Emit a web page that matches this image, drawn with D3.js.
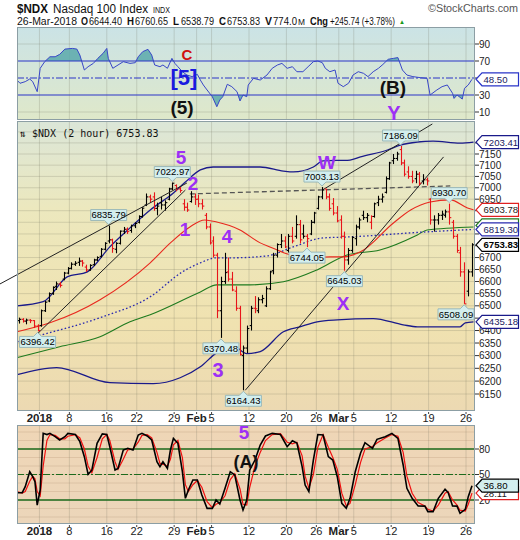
<!DOCTYPE html>
<html><head><meta charset="utf-8">
<script src="https://cdn.jsdelivr.net/npm/d3@7"></script>
<style>body{margin:0;background:#fff}svg{display:block}</style>
</head><body><svg id="c" width="520" height="540"></svg>
<script>
// ---------------- DATA ----------------
const tickDays   = [3,7,12,16,21,24,26,31,36,40,43,45,50,55,60];
const tickLabels = ["2018","8","16","22","29","Feb","5","12","20","26","Mar","5","12","19","26"];
const tickBold   = [1,0,0,0,0,1,0,0,0,0,1,0,0,0,0];

// 2 bars per trading day, day 0 = 27-Dec-2017
const barOpen = [6440,6445,6438,6442,6440,6418,6420,6480,6520,6550,6580,6590,6610,6635,6655,6672,6680,6685,6660,6648,6670,6690,6705,6735,6770,6775,6735,6760,6812,6820,6815,6835,6850,6875,6925,6960,6960,6910,6935,6925,6950,6995,7010,6995,6930,6915,6940,6960,6950,6930,6880,6830,6770,6710,6480,6600,6640,6610,6560,6490,6300,6330,6420,6490,6480,6525,6500,6570,6645,6710,6755,6770,6730,6790,6790,6840,6800,6790,6800,6850,6910,6960,6995,6960,6930,6890,6860,6790,6690,6730,6780,6830,6880,6870,6850,6875,6935,6950,6980,7040,7120,7130,7170,7110,7070,7050,7040,7060,7030,7035,6950,6860,6860,6880,6880,6895,6850,6790,6720,6640,6560,6640];
const barHigh = [6452,6450,6448,6446,6442,6425,6485,6520,6555,6580,6600,6598,6640,6660,6680,6685,6700,6690,6670,6672,6695,6705,6740,6765,6835.79,6780,6765,6815,6830,6828,6840,6850,6880,6915,6975,6970,6980,6935,6960,6945,7000,7022.97,7015,7005,6950,6935,6985,6975,6970,6950,6890,6845,6790,6720,6620,6720,6700,6640,6580,6500,6340,6420,6500,6540,6535,6545,6580,6645,6720,6760,6800,6790,6800,6830,6880,6860,6840,6800,6860,6895,6965,7003.13,6995,6975,6955,6920,6880,6810,6740,6790,6840,6870,6900,6890,6880,6935,6965,6975,7050,7115,7150,7160,7186.09,7125,7095,7075,7075,7070,7060,7045,6955,6880,6890,6900,6905,6930.70,6860,6800,6745,6680,6650,6760.65];
const barLow  = [6428,6432,6425,6430,6410,6396.42,6415,6475,6515,6545,6565,6575,6605,6630,6650,6665,6665,6662,6640,6645,6665,6685,6700,6730,6760,6720,6718,6755,6800,6800,6805,6825,6845,6870,6920,6935,6900,6880,6905,6900,6945,6990,6985,6978,6900,6895,6935,6925,6915,6905,6820,6755,6700,6450,6370.48,6590,6600,6560,6480,6300,6164.43,6310,6400,6470,6470,6510,6495,6565,6630,6700,6740,6740,6720,6760,6780,6760,6780,6744.05,6795,6845,6905,6950,6950,6900,6880,6850,6780,6645.03,6670,6720,6750,6820,6860,6850,6820,6870,6920,6935,6975,7035,7105,7120,7100,7050,7040,7020,7020,7010,7015,7010,6840,6810,6840,6860,6870,6840,6780,6720,6620,6508.09,6538.79,6620];
const barClose= [6445,6438,6442,6440,6418,6400,6480,6515,6550,6575,6590,6584,6635,6654,6672,6676,6685,6677,6648,6667,6690,6700,6735,6760,6775,6738,6760,6812,6820,6810,6835,6845,6875,6911,6960,6950,6910,6920,6925,6935,6995,7020,6995,6988,6915,6903,6960,6949,6930,6920,6830,6762,6710,6480,6600,6637,6610,6565,6490,6305,6330,6408,6490,6488,6525,6530,6570,6640,6710,6755,6770,6745,6790,6770,6840,6775,6790,6780,6850,6890,6960,6990,6960,6910,6890,6856,6790,6690,6730,6785,6830,6860,6870,6880,6875,6930,6950,6960,7040,7110,7130,7150,7110,7060,7050,7030,7060,7020,7035,7030,6860,6860,6880,6885,6895,6870,6790,6730,6640,6508.09,6640,6753.83];

// overlays (day index, value)
const bbUpDay = [0,3.5,6.7,9.4,12.4,15.1,17.8,20.9,22.5,24.5,26.2,29.8,32.5,35.6,36.9,39.6,40.9,44.5,45.9,49.5,51.2,53.5,55.6,59.2,61];
const bbUpVal = [6500,6517,6619,6640,6745,6826,6903,6977,7025,7079,7092,7092,7092,7074,7070,7092,7119,7123,7137,7168,7190,7204,7208,7199,7203.41];
const bbLoDay = [0,5.3,12.4,18.2,21.8,24.5,26.7,28.9,30.7,32.5,35.6,37.8,40.1,42.8,47.6,51.6,53.5,59.2,59.9,61];
const bbLoVal = [6225,6253,6194,6190,6213,6256,6312,6339,6308,6316,6395,6415,6435,6443,6448,6423,6415,6415,6431,6435.18];
const redDay  = [0,4.4,11.1,17.8,20.5,23.1,25.1,26.7,29.8,32.5,33.8,36.5,39.2,41.8,43.6,45.9,50.3,52.6,55.2,57.9,60.2,61];
const redVal  = [6395,6431,6525,6678,6762,6830,6860,6851,6817,6762,6745,6711,6699,6703,6703,6724,6847,6903,6938,6947,6912,6903.78];
const dotDay  = [0,2.4,11.1,17.8,22.1,24.5,26.7,28.9,33.4,36.9,40.9,44.1,54.8,61];
const dotVal  = [6355,6375,6452,6537,6640,6678,6699,6699,6707,6745,6783,6787,6809,6819.30];
const grnDay  = [0,5.7,11.1,15.1,17.8,24.5,26.7,31.1,35.6,40.1,44.1,48.5,53.5,54.8,61];
const grnVal  = [6292,6335,6375,6435,6464,6557,6586,6586,6599,6648,6711,6732,6796,6817,6830];

// trend lines (day, price) start -> end
const trendD1 = [-2.27, 2.7, 30.5, 40.8];
const trendV1 = [6590, 6386, 6164.43, 6990];
const trendD2 = [22.7, 22.5, 57.0, 55.5];
const trendV2 = [7021, 6990, 7137, 7286];
const dashD = [23.1, 57.9], dashV = [6973, 7008];

// price callouts
const calloutVals  = [6835.79,7022.97,7003.13,7186.09,6930.70,6396.42,6370.48,6164.43,6744.05,6645.03,6508.09];
const calloutKinds = ["h","h","h","h","h","l","l","l","l","l","l"];

// RSI
const rsiDay = [0,0.4,1.1,1.7,2.1,2.7,3.1,3.7,4.4,5.1,5.7,6.4,7.4,8.0,8.4,9.0,9.5,10.2,10.8,11.5,12.0,12.2,12.8,13.5,14.2,15.1,15.8,16.2,16.8,17.5,18.0,18.4,19.1,19.5,20.1,20.7,21.1,21.5,22.1,22.7,23.4,24.1,24.5,24.9,25.4,26.1,26.7,27.1,27.5,28.1,28.7,29.4,29.8,30.2,30.7,30.9,31.6,32.5,33.4,34.1,34.8,35.4,36.1,36.8,37.4,38.2,38.9,39.6,40.2,40.8,41.2,41.8,42.5,42.9,43.6,44.3,44.9,45.6,46.3,46.9,47.6,48.3,48.9,49.6,50.3,50.9,51.5,52.1,52.9,53.9,54.8,55.2,56.1,56.8,57.5,58.2,58.4,58.8,59.5,59.8,60.3,60.8];
const rsiVal = [47.6,43.8,45.7,48.8,45.7,33.9,61.4,69.2,75,75,77.8,84,84.8,84,77,59.4,63.3,67.2,73.1,79,84.8,73.1,61.4,65.3,69.2,67.2,68,75,81,83.7,77,65.3,63.3,65.3,61.4,73.1,67.2,63.3,57.4,53.5,51.6,54.3,47.6,41.8,35.9,28,16.2,24.1,28,42.6,39.8,33.9,23,30,28,41.8,49.6,47.6,53.5,61.4,65.3,67.2,61.4,63.3,57.4,57.4,63.3,69.2,70,68,61.4,57.4,59.4,43.8,39.8,43.8,53.5,57.4,55.5,51.6,57.4,61.4,66,72,73.1,74,59.4,53.5,51.6,50.4,49.6,30,35.9,39.8,41.8,32,26,30,25.2,37.9,41.8,48.5];
const rsiTicks = [90,70,50,30,10];

// Slow stochastic
const stoDay = [0,0.7,1.1,1.7,2.1,2.4,2.7,3.1,3.5,4.0,4.4,5.1,5.7,6.4,6.8,7.8,8.4,9.0,9.5,10.0,10.7,11.4,12.0,12.4,13.1,13.5,14.2,14.8,15.5,16.2,16.7,17.4,18.0,18.7,19.1,19.5,20.1,20.5,20.9,21.5,22.1,22.5,22.9,23.5,24.1,24.7,25.4,26.1,26.6,27.1,27.8,28.5,29.1,29.8,30.2,30.7,31.1,31.8,32.5,33.2,34.1,35.2,36.1,36.8,37.4,38.1,38.5,39.0,39.6,40.2,40.9,41.6,42.2,42.8,43.4,44.0,44.5,45.2,45.9,46.5,47.5,48.1,49.2,50.1,50.9,51.6,52.1,52.8,53.6,54.5,54.9,55.6,56.3,57.2,57.6,58.2,58.8,59.2,59.9,60.3,60.8];
const stoK = [28.6,28.6,35.7,53.3,47.4,41.6,14,31.8,98.4,97,98.4,94.5,90.6,94.5,98.4,97,88.6,71,50.2,55,86.7,97.8,97,82.7,55.3,57,78.8,80.8,78.8,96.5,98.4,95.4,90.6,65,59.2,65,57.1,78.8,92.5,86.7,53.3,22,31.8,43.5,43.5,25.9,10.2,10.2,20,15.3,33.8,53.3,49.4,20,8.2,20,55.3,67,84.7,95.3,98.4,97,82.7,89.8,87,59.2,37.6,29.8,67,97,96.5,71,67,47.4,16.1,10.2,22,53.3,75,87.4,80.8,91.4,94.5,98.4,92.5,61.2,33.8,22,13,12.8,6.3,6.3,22,32.6,29,13,12.8,4.3,9,23.9,36.8];
const stoD = [30,28,30,42,48,45,30,25,60,90,97,96,92,92,95,97,93,80,60,52,70,92,97,90,65,56,68,79,80,88,96,97,93,76,63,62,60,68,85,90,70,38,30,38,43,35,18,11,15,17,25,44,51,33,15,14,35,60,76,90,97,98,88,86,88,72,48,34,50,82,97,82,70,56,28,13,16,38,64,80,83,87,93,97,95,76,48,28,17,13,9,7,14,28,30,20,14,8,7,15,28.11];
const stoTicks = [80,50,20];

// ---------------- LAYOUT ----------------
const svg = d3.select("#c");
const X0 = 17, X1 = 475;
const P = {rsi:[27,120], main:[121,411], sto:[425,524]};
const x  = d3.scaleLinear().domain([0,61.2]).range([X0,X1]);
const yR = d3.scaleLinear().domain([30,70]).range([95,61]);
const yM = d3.scaleLog().domain([6150,7150]).range([394,154]);
const yS = d3.scaleLinear().domain([20,80]).range([500,449]);
const FONT = "Arial, 'Liberation Sans', sans-serif";
const PURPLE = "#9d2ff5";

const defs = svg.append("defs");
function grad(id, stops){
  const g = defs.append("linearGradient").attr("id",id).attr("x1",0).attr("y1",0).attr("x2",0).attr("y2",1);
  stops.forEach(s=>g.append("stop").attr("offset",s[0]).attr("stop-color",s[1]));
}
grad("gR",[["0%","#cbe3e6"],["100%","#dfe8c9"]]);
grad("gM",[["0%","#dbe6d8"],["30%","#ece8be"],["70%","#f0e2b0"],["100%","#ecd9b2"]]);
grad("gS",[["0%","#efd6b6"],["100%","#ecd6ba"]]);
function clip(id, top, bot){
  defs.append("clipPath").attr("id",id).append("rect").attr("x",X0).attr("y",top).attr("width",X1-X0).attr("height",bot-top);
}
clip("cR",P.rsi[0],P.rsi[1]); clip("cM",P.main[0],P.main[1]); clip("cS",P.sto[0],P.sto[1]);

[["rsi","gR"],["main","gM"],["sto","gS"]].forEach(([k,g])=>{
  svg.append("rect").attr("x",X0).attr("y",P[k][0]).attr("width",X1-X0).attr("height",P[k][1]-P[k][0]).attr("fill",`url(#${g})`);
});

// gridlines
const gridCol = "rgba(110,110,90,0.22)";
svg.append("g").attr("clip-path","url(#cM)").selectAll("line").data(d3.range(6150,7300,50)).join("line")
  .attr("x1",X0).attr("x2",X1).attr("y1",d=>yM(d)).attr("y2",d=>yM(d)).attr("stroke",gridCol);
svg.append("g").attr("clip-path","url(#cS)").selectAll("line").data(d3.range(-10,110,10)).join("line")
  .attr("x1",X0).attr("x2",X1).attr("y1",d=>yS(d)).attr("y2",d=>yS(d)).attr("stroke","rgba(150,110,80,0.18)");
svg.append("g").attr("clip-path","url(#cR)").selectAll("line").data([10,90]).join("line")
  .attr("x1",X0).attr("x2",X1).attr("y1",d=>yR(d)).attr("y2",d=>yR(d)).attr("stroke",gridCol);
["rsi","main","sto"].forEach(k=>{
  svg.append("g").selectAll("line").data(tickDays).join("line")
    .attr("x1",d=>x(d)).attr("x2",d=>x(d)).attr("y1",P[k][0]).attr("y2",P[k][1]).attr("stroke",gridCol);
});

// ---------------- RSI PANEL ----------------
const rsiPts = rsiDay.map((d,i)=>[d,rsiVal[i]]);
defs.append("clipPath").attr("id","cRhi").append("rect").attr("x",X0).attr("y",P.rsi[0]).attr("width",X1-X0).attr("height",yR(70)-P.rsi[0]);
defs.append("clipPath").attr("id","cRlo").append("rect").attr("x",X0).attr("y",yR(30)).attr("width",X1-X0).attr("height",P.rsi[1]-yR(30));
svg.append("path").datum(rsiPts).attr("clip-path","url(#cRhi)").attr("fill","#5aa9ab").attr("opacity",0.85)
  .attr("d",d3.area().x(d=>x(d[0])).y0(yR(70)).y1(d=>yR(d[1])));
svg.append("path").datum(rsiPts).attr("clip-path","url(#cRlo)").attr("fill","#5aa9ab").attr("opacity",0.85)
  .attr("d",d3.area().x(d=>x(d[0])).y0(yR(30)).y1(d=>yR(d[1])));
[70,30].forEach(v=>svg.append("line").attr("x1",X0).attr("x2",X1).attr("y1",yR(v)).attr("y2",yR(v)).attr("stroke","#2a35c8").attr("stroke-width",1.2));
svg.append("line").attr("x1",X0).attr("x2",X1).attr("y1",yR(50)).attr("y2",yR(50)).attr("stroke","#2a35c8").attr("stroke-width",1).attr("stroke-dasharray","7,2,2,2");
svg.append("path").datum(rsiPts).attr("clip-path","url(#cR)").attr("fill","none").attr("stroke","#3846c8").attr("stroke-width",1)
  .attr("d",d3.line().x(d=>x(d[0])).y(d=>yR(d[1])));

// ---------------- MAIN PANEL ----------------
const gM = svg.append("g").attr("clip-path","url(#cM)");
function overlay(days, vals, color, dash, w){
  gM.append("path").datum(days.map((d,i)=>[d,vals[i]])).attr("fill","none").attr("stroke",color)
    .attr("stroke-width",w||1.1).attr("stroke-dasharray",dash||null)
    .attr("d",d3.line().curve(d3.curveMonotoneX).x(d=>x(d[0])).y(d=>yM(d[1])));
}
overlay(grnDay,grnVal,"#1e7a1e");
overlay(dotDay,dotVal,"#2a2ab0","1.6,2.2",1.3);
overlay(redDay,redVal,"#e8281e");
overlay(bbUpDay,bbUpVal,"#1a1a8a",null,1.3);
overlay(bbLoDay,bbLoVal,"#1a1a8a",null,1.3);
gM.append("line").attr("x1",x(dashD[0])).attr("y1",yM(dashV[0])).attr("x2",x(dashD[1])).attr("y2",yM(dashV[1]))
  .attr("stroke","#555").attr("stroke-width",1.3).attr("stroke-dasharray","5,3");
trendD1.forEach((d,i)=>{
  const parent = i===0 ? svg : gM;
  parent.append("line").attr("x1",x(d)).attr("y1",yM(trendV1[i])).attr("x2",x(trendD2[i])).attr("y2",yM(trendV2[i]))
    .attr("stroke","#222").attr("stroke-width",1);
});
const bx = i => x(Math.floor(i/2)+0.25+0.5*(i%2));
const gB = gM.append("g");
barClose.forEach((c,i)=>{
  const col = (i>0 && c<barClose[i-1]) ? "#e8141a" : "#000";
  const cx = Math.round(bx(i))+0.5;
  gB.append("line").attr("x1",cx).attr("x2",cx).attr("y1",yM(barHigh[i])).attr("y2",yM(barLow[i])).attr("stroke",col).attr("stroke-width",1.1);
  gB.append("line").attr("x1",cx-1.8).attr("x2",cx).attr("y1",yM(barOpen[i])).attr("y2",yM(barOpen[i])).attr("stroke",col).attr("stroke-width",1.1);
  gB.append("line").attr("x1",cx).attr("x2",cx+1.8).attr("y1",yM(c)).attr("y2",yM(c)).attr("stroke",col).attr("stroke-width",1.1);
});
calloutVals.forEach((v,k)=>{
  const arr = calloutKinds[k]==="h" ? barHigh : barLow;
  const i = arr.indexOf(v);
  const px = bx(i), py = yM(v);
  const txt = v.toFixed(2);
  const w = 36, h = 11;
  const bxl = Math.max(X0+1, Math.min(px - w/2, X1 - w - 1));
  const g = gM.append("g");
  let top;
  if(calloutKinds[k]==="h"){
    top = py - 5 - h;
    g.append("path").attr("d",`M${bxl},${top}H${bxl+w}V${top+h}H${px+4}L${px},${py-1}L${px-4},${top+h}H${bxl}Z`)
      .attr("fill","#d3eeee").attr("stroke","#9ab8b8");
  } else {
    top = py + 5;
    g.append("path").attr("d",`M${bxl},${top}H${px-4}L${px},${py+1}L${px+4},${top}H${bxl+w}V${top+h}H${bxl}Z`)
      .attr("fill","#d3eeee").attr("stroke","#9ab8b8");
  }
  g.append("text").attr("x",bxl+w/2).attr("y",top+h-2.2).attr("text-anchor","middle").attr("font-family",FONT).attr("font-size",9.5).text(txt);
});
svg.append("text").attr("x",20).attr("y",137).attr("font-family","'DejaVu Sans Mono', monospace").attr("font-size",10)
  .attr("fill","#111").text("\u21C5 $NDX (2 hour) 6753.83");

// ---------------- STOCH PANEL ----------------
[80,20].forEach(v=>svg.append("line").attr("x1",X0).attr("x2",X1).attr("y1",yS(v)).attr("y2",yS(v)).attr("stroke","#1d6b1d").attr("stroke-width",1.3));
svg.append("line").attr("x1",X0).attr("x2",X1).attr("y1",yS(50)).attr("y2",yS(50)).attr("stroke","#1d6b1d").attr("stroke-width",1.1).attr("stroke-dasharray","7,2,2,2");
const gS = svg.append("g").attr("clip-path","url(#cS)");
gS.append("path").datum(stoDay.map((d,i)=>[d,stoD[i]])).attr("fill","none").attr("stroke","#f01010").attr("stroke-width",1.2)
  .attr("d",d3.line().x(d=>x(d[0])).y(d=>yS(d[1])));
gS.append("path").datum(stoDay.map((d,i)=>[d,stoK[i]])).attr("fill","none").attr("stroke","#000").attr("stroke-width",1.6)
  .attr("d",d3.line().x(d=>x(d[0])).y(d=>yS(d[1])));

["rsi","main","sto"].forEach(k=>{
  svg.append("rect").attr("x",X0+0.5).attr("y",P[k][0]+0.5).attr("width",X1-X0-1).attr("height",P[k][1]-P[k][0]-1)
    .attr("fill","none").attr("stroke","#8c9ea4");
});

// ---------------- VALUE BOXES (positions) ----------------
const boxes = [
  {y:yM(bbUpVal[bbUpVal.length-1]), t:"7203.41", s:"#1a1a8a", f:"#fff", c:"#1a1a60"},
  {y:yM(redVal[redVal.length-1]), t:"6903.78", s:"#e02020", f:"#fff", c:"#222"},
  {y:yM(grnVal[grnVal.length-1])-1.5, t:"", s:"#1e7a1e", f:"#fff", c:"#222"},
  {y:yM(dotVal[dotVal.length-1]), t:"6819.30", s:"#2a2ab0", f:"#fff", c:"#1a1a60"},
  {y:yM(barClose[barClose.length-1]), t:"6753.83", s:"#000", f:"#fff", c:"#000", b:true},
  {y:yM(bbLoVal[bbLoVal.length-1]), t:"6435.18", s:"#1a1a8a", f:"#fff", c:"#1a1a60"},
  {y:yR(rsiVal[rsiVal.length-1]), t:"48.50", s:"#2a35c8", f:"#fff", c:"#1a1a60"},
  {y:yS(stoD[stoD.length-1]), t:"28.11", s:"#e02020", f:"#fff", c:"#222"},
  {y:yS(stoK[stoK.length-1]), t:"36.80", s:"#000", f:"#d3eeee", c:"#000"}
];

// ---------------- AXES ----------------
function rightTicks(vals, scale){
  const g = svg.append("g");
  vals.forEach(v=>{
    const y = scale(v);
    g.append("line").attr("x1",X1).attr("x2",X1+4).attr("y1",y).attr("y2",y).attr("stroke","#333");
    if (boxes.some(b=>Math.abs(b.y-y)<5)) return; // hidden under a value box
    g.append("text").attr("x",X1+4).attr("y",y+3.6).attr("font-family",FONT).attr("font-size",10).attr("fill","#222").text(v);
  });
}
rightTicks(d3.range(6150,7250,50), yM);
rightTicks(rsiTicks, yR);
rightTicks(stoTicks, yS);

function xLabels(yBase){
  tickDays.forEach((d,i)=>{
    svg.append("text").attr("x",x(d)).attr("y",yBase).attr("text-anchor","middle").attr("font-family",FONT)
      .attr("font-size",tickBold[i]?11.5:11).attr("font-weight",tickBold[i]?"bold":"normal").attr("fill","#222").text(tickLabels[i]);
    svg.append("line").attr("x1",x(d)).attr("x2",x(d)).attr("y1",yBase-10).attr("y2",yBase-8).attr("stroke","#444");
  });
}
xLabels(422); xLabels(535);

boxes.forEach(bx_=>{
  const y = bx_.y, g = svg.append("g");
  g.append("path").attr("d",`M${X1+1},${y}L${X1+7},${y-6.5}H518.5V${y+6.5}H${X1+7}Z`).attr("fill",bx_.f).attr("stroke",bx_.s).attr("stroke-width",1.2);
  if (bx_.t) g.append("text").attr("x",X1+8.5).attr("y",y+3.5).attr("font-family",FONT).attr("font-size",9.6)
    .attr("font-weight",bx_.b?"bold":"normal").attr("fill",bx_.c).text(bx_.t);
});

// ---------------- ANNOTATIONS ----------------
function ann(txt, cx, cy, size, color){
  svg.append("text").attr("x",cx).attr("y",cy+size*0.36).attr("text-anchor","middle").attr("font-family",FONT)
    .attr("font-weight","bold").attr("font-size",size).attr("fill",color).text(txt);
}
ann("5",181,157,19,PURPLE); ann("2",193,183,19,PURPLE); ann("1",185,229,19,PURPLE); ann("4",227,236,19,PURPLE);
ann("3",218,370,20,PURPLE); ann("W",327,162,19,PURPLE); ann("X",343,303,19,PURPLE); ann("Y",394,113,20,PURPLE);
ann("5",244,432,19,PURPLE);
ann("C",187,55,15,"#d01010"); ann("[5]",184,77,22,"#1a1ae0");
ann("(5)",182,107,19,"#111"); ann("(B)",393,87,19,"#111"); ann("(A)",246,462,18,"#111");

// ---------------- HEADER ----------------
function chunk(t, xPos, yPos, w, size, bold, color){
  svg.append("text").attr("x",xPos).attr("y",yPos).attr("font-family",FONT).attr("font-size",size)
    .attr("font-weight",bold?"bold":"normal").attr("fill",color||"#111")
    .attr("textLength",w).attr("lengthAdjust","spacingAndGlyphs").text(t);
}
chunk("$NDX",17,13,31,13.5,true);
chunk("Nasdaq 100 Index",53,13,95,12,false);
chunk("INDX",153,13,17,8.5,false);
chunk("\u00A9StockCharts.com",428,12,90,11,false,"#555");
chunk("26-Mar-2018",17,25,60,10.5,false);
chunk("O",81,25,7,10.5,true);
chunk("6644.40",89,25,33,10.5,false);
chunk("H",127,25,7,10.5,true);
chunk("6760.65",135,25,33,10.5,false);
chunk("L",173,25,6,10.5,true);
chunk("6538.79",181,25,33,10.5,false);
chunk("C",219,25,7,10.5,true);
chunk("6753.83",227,25,33,10.5,false);
chunk("V",265,25,7,10.5,true);
chunk("774.0",273,25,24,10.5,false);
chunk("M",298,25,7,8.5,false);
chunk("Chg",310,25,18,11.5,true);
chunk("+245.74 (+3.78%)",330,25,65,10.5,false);
chunk("\u25B2",399,23.5,6,6.5,false,"#1a9a1a");
</script></body></html>
